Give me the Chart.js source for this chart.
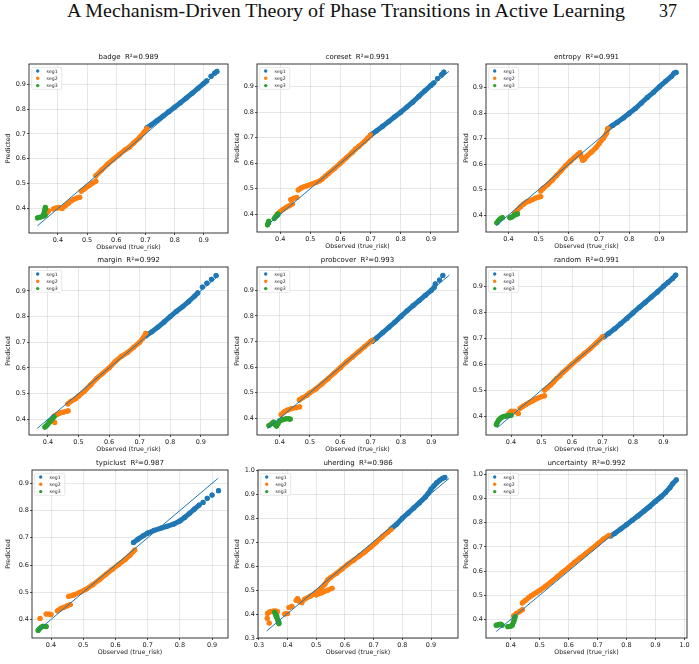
<!DOCTYPE html>
<html>
<head>
<meta charset="utf-8">
<script src="https://cdn.jsdelivr.net/npm/chart.js@4.4.0/dist/chart.umd.min.js"></script>
<style>
  html, body { margin: 0; padding: 0; background: #fff; }
  #page { position: relative; width: 699px; height: 664px; overflow: hidden; background: #fff; }
  #header { position: absolute; left: 67px; top: 1px; font-family: 'Liberation Serif', serif; font-size: 18px; white-space: nowrap; transform-origin: 0 0; color: #111; }
  #pageno { position: absolute; left: 659px; top: 1px; font-family: 'Liberation Serif', serif; font-size: 18px; color: #111; }
  canvas { position: absolute; }
</style>
</head>
<body>
<div id="page">
  <div id="header">A Mechanism-Driven Theory of Phase Transitions in Active Learning</div>
  <div id="pageno">37</div>
</div>
<script>
// method names and fit quality
const methods = ['badge', 'coreset', 'entropy', 'margin', 'probcover', 'random', 'typiclust', 'uherding', 'uncertainty'];
const r2 = [0.989, 0.991, 0.991, 0.992, 0.993, 0.991, 0.987, 0.986, 0.992];

// y = x reference line extent [from, to]
const badgeDiag = [0.33, 0.95];
const coresetDiag = [0.36, 0.96];
const entropyDiag = [0.36, 0.96];
const marginDiag = [0.365, 0.96];
const probcoverDiag = [0.36, 0.96];
const randomDiag = [0.355, 0.945];
const typiclustDiag = [0.36, 0.918];
const uherdingDiag = [0.327, 0.963];
const uncertaintyDiag = [0.35, 0.975];

// [observed, predicted] ; null = break in the run of points
const badgeSeg1 = [[0.705,0.725],[0.72,0.737],[0.74,0.754],[0.76,0.772],[0.78,0.79],[0.80,0.808],[0.82,0.826],[0.84,0.845],[0.86,0.864],[0.88,0.884],[0.90,0.904],[0.91,0.914],null,[0.925,0.933],null,[0.937,0.945],[0.945,0.952]];
const badgeSeg2 = [[0.362,0.383],[0.368,0.39],null,[0.385,0.398],[0.395,0.402],[0.405,0.403],[0.415,0.40],null,[0.425,0.41],[0.435,0.42],[0.445,0.43],[0.455,0.437],[0.465,0.442],[0.475,0.445],null,[0.48,0.47],[0.49,0.478],[0.50,0.487],[0.51,0.495],[0.52,0.503],[0.53,0.51],null,[0.53,0.532],[0.55,0.555],[0.57,0.578],[0.59,0.598],[0.61,0.617],[0.63,0.636],[0.645,0.647],[0.66,0.664],[0.68,0.686],[0.695,0.707],[0.705,0.722]];
const badgeSeg3 = [[0.33,0.362],[0.34,0.365],[0.35,0.369],[0.356,0.373],[0.352,0.378],[0.354,0.388],[0.356,0.397],[0.357,0.404]];

const coresetSeg1 = [[0.70,0.71],[0.72,0.727],[0.74,0.745],[0.76,0.763],[0.78,0.782],[0.80,0.80],[0.82,0.82],[0.84,0.84],[0.86,0.862],[0.88,0.884],[0.90,0.905],[0.91,0.915],null,[0.922,0.932],null,[0.935,0.946],[0.943,0.957]];
const coresetSeg2 = [[0.39,0.40],[0.40,0.41],[0.41,0.419],[0.42,0.427],[0.43,0.433],[0.44,0.44],null,[0.435,0.457],[0.445,0.462],[0.455,0.466],null,[0.46,0.495],[0.47,0.503],[0.48,0.508],[0.49,0.512],[0.50,0.516],[0.51,0.521],[0.52,0.525],[0.53,0.53],[0.54,0.538],[0.55,0.549],[0.56,0.559],[0.58,0.579],[0.60,0.60],[0.62,0.622],[0.64,0.643],[0.65,0.656],[0.66,0.665],[0.68,0.686],[0.69,0.698],[0.70,0.71]];
const coresetSeg3 = [[0.358,0.358],[0.36,0.365],[0.362,0.372],null,[0.38,0.383],[0.385,0.39],[0.39,0.395],[0.393,0.40]];

const entropySeg1 = [[0.73,0.74],[0.745,0.752],[0.76,0.764],[0.78,0.781],[0.80,0.80],[0.82,0.818],[0.84,0.84],[0.86,0.862],[0.88,0.882],[0.90,0.904],[0.92,0.925],[0.94,0.945],[0.948,0.957],[0.955,0.96]];
const entropySeg2 = [[0.42,0.408],[0.43,0.42],[0.44,0.433],[0.45,0.443],[0.46,0.452],[0.47,0.456],[0.48,0.461],[0.49,0.467],[0.50,0.471],[0.507,0.473],null,[0.507,0.495],[0.515,0.505],[0.53,0.52],[0.545,0.537],[0.56,0.556],[0.575,0.575],[0.59,0.595],[0.605,0.612],[0.62,0.628],[0.63,0.638],[0.637,0.645],[0.642,0.628],[0.646,0.615],[0.652,0.62],[0.66,0.632],[0.675,0.648],[0.69,0.665],[0.70,0.68],[0.715,0.703],[0.725,0.722],[0.73,0.74]];
const entropySeg3 = [[0.362,0.37],[0.367,0.378],[0.372,0.385],[0.38,0.39],null,[0.405,0.39],[0.412,0.393],[0.42,0.40],[0.43,0.405]];

const marginSeg1 = [[0.72,0.725],[0.74,0.741],[0.76,0.759],[0.78,0.779],[0.80,0.80],[0.82,0.82],[0.84,0.838],[0.86,0.858],[0.88,0.88],[0.89,0.892],null,[0.905,0.915],null,[0.92,0.93],null,[0.935,0.945],null,[0.95,0.96]];
const marginSeg2 = [[0.422,0.388],null,[0.42,0.413],[0.43,0.419],[0.44,0.425],[0.45,0.428],[0.46,0.431],[0.466,0.433],null,[0.465,0.46],[0.475,0.47],[0.49,0.48],[0.50,0.49],[0.52,0.51],[0.54,0.535],[0.56,0.56],[0.58,0.58],[0.60,0.60],[0.62,0.625],[0.64,0.645],[0.66,0.66],[0.68,0.68],[0.70,0.70],[0.71,0.715],[0.72,0.735]];
const marginSeg3 = [[0.39,0.37],[0.395,0.375],[0.40,0.382],[0.405,0.39],[0.41,0.397],[0.415,0.404],[0.42,0.41]];

const probcoverSeg1 = [[0.705,0.70],[0.72,0.714],[0.74,0.735],[0.76,0.755],[0.78,0.776],[0.80,0.798],[0.82,0.82],[0.84,0.84],[0.86,0.86],[0.88,0.88],[0.90,0.90],[0.91,0.912],null,[0.913,0.925],null,[0.927,0.94],null,[0.938,0.958]];
const probcoverSeg2 = [[0.405,0.415],[0.415,0.425],[0.425,0.432],[0.44,0.438],[0.455,0.442],[0.466,0.445],null,[0.465,0.472],[0.475,0.48],[0.49,0.49],[0.50,0.50],[0.52,0.515],[0.54,0.535],[0.56,0.555],[0.58,0.577],[0.60,0.598],[0.62,0.62],[0.64,0.64],[0.66,0.66],[0.68,0.68],[0.70,0.70],[0.705,0.705]];
const probcoverSeg3 = [[0.365,0.372],[0.375,0.38],[0.38,0.385],[0.385,0.376],[0.39,0.37],[0.395,0.38],[0.40,0.39],[0.41,0.395],[0.42,0.398],[0.43,0.398],[0.435,0.397]];

const randomSeg1 = [[0.705,0.705],[0.72,0.718],[0.74,0.736],[0.76,0.756],[0.78,0.776],[0.80,0.797],[0.82,0.818],[0.84,0.838],[0.86,0.858],[0.88,0.878],[0.90,0.90],[0.915,0.915],[0.93,0.93],[0.94,0.943]];
const randomSeg2 = [[0.39,0.405],[0.395,0.412],[0.40,0.418],[0.41,0.418],[0.415,0.416],null,[0.424,0.41],null,[0.43,0.43],[0.44,0.438],[0.45,0.445],[0.46,0.452],[0.47,0.458],[0.48,0.465],[0.49,0.47],[0.50,0.475],[0.51,0.478],null,[0.51,0.50],[0.52,0.51],[0.53,0.52],[0.54,0.532],[0.55,0.545],[0.56,0.555],[0.57,0.568],[0.58,0.578],[0.60,0.60],[0.62,0.62],[0.64,0.64],[0.66,0.66],[0.68,0.682],[0.70,0.705]];
const randomSeg3 = [[0.352,0.367],[0.355,0.375],[0.36,0.385],[0.367,0.393],[0.375,0.398],[0.385,0.40],[0.395,0.402],[0.40,0.403]];

const typiclustSeg1 = [[0.656,0.683],[0.67,0.695],[0.687,0.708],[0.70,0.717],[0.72,0.727],[0.74,0.735],[0.76,0.742],[0.78,0.75],[0.80,0.762],[0.815,0.775],[0.83,0.79],[0.845,0.805],[0.86,0.82],null,[0.872,0.83],null,[0.885,0.845],null,[0.90,0.857],null,[0.92,0.873]];
const typiclustSeg2 = [[0.366,0.404],null,[0.385,0.42],[0.395,0.42],[0.40,0.418],null,[0.42,0.432],[0.43,0.44],[0.44,0.445],[0.45,0.45],[0.46,0.455],null,[0.455,0.485],[0.47,0.49],[0.49,0.50],[0.51,0.512],[0.53,0.528],[0.55,0.546],[0.57,0.565],[0.59,0.584],[0.61,0.602],[0.63,0.62],[0.645,0.636],[0.66,0.655]];
const typiclustSeg3 = [[0.36,0.36],[0.364,0.366],[0.37,0.372],[0.375,0.375],[0.385,0.374]];

const uherdingSeg1 = [[0.76,0.752],[0.78,0.772],[0.80,0.797],[0.82,0.818],[0.84,0.84],[0.86,0.862],[0.88,0.885],[0.89,0.90],[0.90,0.918],[0.91,0.932],[0.92,0.945],[0.93,0.955],[0.94,0.963],[0.948,0.967]];
const uherdingSeg2 = [[0.329,0.38],null,[0.336,0.36],null,[0.33,0.40],[0.335,0.405],[0.34,0.408],[0.35,0.41],[0.36,0.41],[0.365,0.408],null,[0.39,0.398],[0.40,0.40],null,[0.405,0.425],[0.415,0.43],null,[0.43,0.455],[0.435,0.462],[0.44,0.452],[0.45,0.445],null,[0.46,0.46],[0.48,0.473],[0.50,0.488],[0.515,0.503],[0.53,0.522],[0.54,0.54],[0.55,0.55],[0.57,0.567],[0.59,0.586],[0.61,0.605],[0.63,0.622],[0.65,0.64],[0.67,0.657],[0.69,0.677],[0.71,0.698],[0.73,0.72],[0.75,0.74],[0.76,0.75],null,[0.50,0.478],[0.52,0.487],[0.54,0.497],[0.555,0.505]];
const uherdingSeg3 = [[0.355,0.405],[0.358,0.398],[0.36,0.39],[0.363,0.382],[0.366,0.373],[0.368,0.365],[0.37,0.358]];

const uncertaintySeg1 = [[0.745,0.745],[0.76,0.756],[0.78,0.774],[0.80,0.792],[0.82,0.81],[0.84,0.828],[0.86,0.847],[0.88,0.866],[0.90,0.888],[0.92,0.907],[0.935,0.925],[0.95,0.945],[0.96,0.962],[0.972,0.977]];
const uncertaintySeg2 = [[0.41,0.415],[0.42,0.425],[0.43,0.432],[0.44,0.44],null,[0.44,0.468],[0.45,0.478],[0.46,0.488],[0.47,0.497],[0.48,0.505],[0.49,0.512],[0.50,0.52],[0.52,0.537],[0.54,0.556],[0.56,0.576],[0.58,0.596],[0.60,0.615],[0.62,0.636],[0.64,0.655],[0.66,0.673],[0.68,0.692],[0.70,0.712],[0.72,0.732],[0.74,0.748]];
const uncertaintySeg3 = [[0.35,0.376],[0.358,0.378],[0.365,0.38],[0.37,0.376],null,[0.39,0.37],[0.40,0.372],[0.405,0.376],[0.41,0.39],[0.412,0.40],[0.415,0.41]];

const BLUE = '#1f77b4', ORANGE = '#ff7f0e', GREEN = '#2ca02c';
const colLeft = [0, 229, 458];

// axis limits and axes box [left, right, top, bottom] in page px
const panels = [
  { seg: [badgeSeg1, badgeSeg2, badgeSeg3], diag: badgeDiag, xr: [0.301, 0.983], yr: [0.301, 0.982], col: 0, box: [29, 228, 64, 233] },
  { seg: [coresetSeg1, coresetSeg2, coresetSeg3], diag: coresetDiag, xr: [0.323, 0.990], yr: [0.330, 0.989], col: 1, box: [257, 458, 64, 232] },
  { seg: [entropySeg1, entropySeg2, entropySeg3], diag: entropyDiag, xr: [0.326, 0.991], yr: [0.334, 0.993], col: 2, box: [486, 687, 64, 232] },
  { seg: [marginSeg1, marginSeg2, marginSeg3], diag: marginDiag, xr: [0.338, 0.989], yr: [0.339, 0.993], col: 0, box: [29, 228, 267, 435] },
  { seg: [probcoverSeg1, probcoverSeg2, probcoverSeg3], diag: probcoverDiag, xr: [0.3255, 0.988], yr: [0.335, 0.991], col: 1, box: [257, 458, 267, 435] },
  { seg: [randomSeg1, randomSeg2, randomSeg3], diag: randomDiag, xr: [0.318, 0.977], yr: [0.327, 0.974], col: 2, box: [486, 687, 267, 435] },
  { seg: [typiclustSeg1, typiclustSeg2, typiclustSeg3], diag: typiclustDiag, xr: [0.341, 0.9495], yr: [0.332, 0.949], col: 0, box: [32, 228, 470, 638] },
  { seg: [uherdingSeg1, uherdingSeg2, uherdingSeg3], diag: uherdingDiag, xr: [0.297, 0.994], yr: [0.298, 0.998], col: 1, box: [258, 458, 470, 638] },
  { seg: [uncertaintySeg1, uncertaintySeg2, uncertaintySeg3], diag: uncertaintyDiag, xr: [0.3145, 1.009], yr: [0.323, 1.018], col: 2, box: [486, 687, 470, 638] }
];

const toPts = arr => {
  let lastX = 0;
  return arr.map(p => {
    if (p) { lastX = p[0]; return { x: p[0], y: p[1] }; }
    return { x: lastX, y: null };
  });
};

const segStyle = color => ({
  showLine: true, borderColor: color, backgroundColor: color, borderWidth: 5,
  pointRadius: 2.6, pointBorderWidth: 0, pointHoverRadius: 2.6,
  borderCapStyle: 'round', borderJoinStyle: 'round', spanGaps: false
});

const framePlugin = {
  id: 'frame',
  afterDraw(chart, args, opts) {
    const { ctx, chartArea: a } = chart;
    ctx.save();
    ctx.strokeStyle = '#222';
    ctx.lineWidth = 0.9;
    ctx.strokeRect(a.left, a.top, a.right - a.left, a.bottom - a.top);

    // title
    ctx.fillStyle = '#111';
    ctx.font = '7px "DejaVu Sans"';
    ctx.textAlign = 'center';
    ctx.textBaseline = 'middle';
    ctx.fillText(opts.title, (a.left + a.right) / 2, a.top - 7);

    // legend
    const lx = a.left + 2.7, ly = a.top + 3.3;
    ctx.beginPath();
    ctx.roundRect(lx, ly, 30, 22, 1.5);
    ctx.fillStyle = 'rgba(255,255,255,0.85)';
    ctx.fill();
    ctx.strokeStyle = '#d0d0d0';
    ctx.lineWidth = 0.5;
    ctx.stroke();
    const items = [['seg1', BLUE], ['seg2', ORANGE], ['seg3', GREEN]];
    ctx.font = '4.6px "DejaVu Sans"';
    ctx.textAlign = 'left';
    items.forEach(([label, color], k) => {
      const y = a.top + 7 + k * 7.3;
      ctx.beginPath();
      ctx.arc(a.left + 8.7, y, 1.7, 0, Math.PI * 2);
      ctx.fillStyle = color;
      ctx.fill();
      ctx.fillStyle = '#222';
      ctx.fillText(label, a.left + 17.5, y + 0.3);
    });
    ctx.restore();
  }
};

const page = document.getElementById('page');

panels.forEach((p, i) => {
  const [L, R, T, B] = p.box;
  const cl = colLeft[p.col];
  const top = T - 16;
  const w = R + 6 - cl, h = B + 23 - top;
  const canvas = document.createElement('canvas');
  canvas.width = w; canvas.height = h;
  canvas.style.left = cl + 'px';
  canvas.style.top = top + 'px';
  canvas.style.width = w + 'px';
  canvas.style.height = h + 'px';
  page.appendChild(canvas);

  const tickFont = { family: 'DejaVu Sans', size: 6.5 };
  const titleFont = { family: 'DejaVu Sans', size: 6.3, lineHeight: 1.2 };
  const grid = { color: 'rgba(0,0,0,0.12)', lineWidth: 0.8, tickLength: 2, tickColor: '#222', tickWidth: 0.8 };

  new Chart(canvas, {
    type: 'scatter',
    data: {
      datasets: [
        { label: 'fit', data: [{ x: p.diag[0], y: p.diag[0] }, { x: p.diag[1], y: p.diag[1] }], showLine: true, borderColor: BLUE, borderWidth: 1, pointRadius: 0 },
        Object.assign({ label: 'seg3', data: toPts(p.seg[2]) }, segStyle(GREEN)),
        Object.assign({ label: 'seg2', data: toPts(p.seg[1]) }, segStyle(ORANGE)),
        Object.assign({ label: 'seg1', data: toPts(p.seg[0]) }, segStyle(BLUE))
      ]
    },
    options: {
      responsive: false,
      animation: false,
      devicePixelRatio: 1,
      events: [],
      layout: { padding: { top: 16, right: 6, left: 0, bottom: 0 } },
      plugins: {
        legend: { display: false },
        tooltip: { enabled: false },
        frame: { title: methods[i] + '  R\u00b2=' + r2[i].toFixed(3) }
      },
      scales: {
        x: {
          type: 'linear', min: p.xr[0], max: p.xr[1],
          afterFit: s => { s.height = 23; },
          border: { display: false },
          grid: grid,
          ticks: { stepSize: 0.1, includeBounds: false, maxRotation: 0, autoSkip: false, padding: 1, color: '#222', font: tickFont, callback: v => v.toFixed(1) },
          title: { display: true, text: 'Observed (true_risk)', color: '#222', font: titleFont, padding: { top: 0, bottom: 4.5 } }
        },
        y: {
          type: 'linear', min: p.yr[0], max: p.yr[1],
          afterFit: s => { s.width = L - cl; },
          border: { display: false },
          grid: grid,
          ticks: { stepSize: 0.1, includeBounds: false, autoSkip: false, padding: 1, color: '#222', font: tickFont, callback: v => v.toFixed(1) },
          title: { display: true, text: 'Predicted', color: '#222', font: titleFont, padding: { top: 4.5, bottom: 0 } }
        }
      }
    },
    plugins: [framePlugin]
  });
});

const hdr = document.getElementById('header');
const hw = hdr.getBoundingClientRect().width;
hdr.style.transform = 'scaleX(' + (558 / hw) + ')';
</script>
</body>
</html>
